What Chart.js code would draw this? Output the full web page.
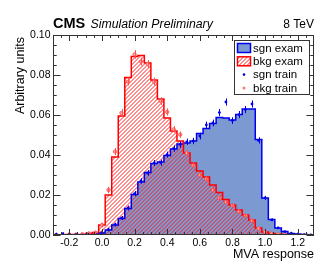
<!DOCTYPE html>
<html><head><meta charset="utf-8">
<script src="https://cdn.jsdelivr.net/npm/chart.js@4.4.1/dist/chart.umd.min.js"></script>
<style>html,body{margin:0;padding:0;background:#fff}canvas{display:block}</style>
</head><body>
<canvas id="c" width="332" height="270"></canvas>
<script>
// ---- data ----
const binCenters = [-0.28,-0.24,-0.20,-0.16,-0.12,-0.08,-0.04,0.00,0.04,0.08,0.12,0.16,0.20,0.24,0.28,0.32,0.36,0.40,0.44,0.48,
                    0.52,0.56,0.60,0.64,0.68,0.72,0.76,0.80,0.84,0.88,0.92,0.96,1.00,1.04,1.08,1.12,1.16,1.20,1.24,1.28];
const sgnExam = [0,0,0,0,0,0.0002,0.0005,0.001,0.0025,0.005,0.0083,0.0133,0.0203,0.0265,0.0312,0.0357,0.0365,0.0398,0.043,0.0455,
                 0.046,0.047,0.0508,0.0532,0.0558,0.0588,0.0585,0.0575,0.0603,0.063,0.063,0.0478,0.0185,0.0077,0.0035,0.0018,0.0008,0.0005,0.0002,0.0001];
const bkgExam = [0,0,0.0002,0.0002,0.0003,0.0008,0.0013,0.005,0.020,0.039,0.0595,0.0787,0.0893,0.0897,0.086,0.0775,0.068,0.0585,0.052,0.047,
                 0.041,0.036,0.032,0.029,0.025,0.0212,0.0178,0.015,0.0125,0.010,0.0075,0.0035,0.0015,0.0008,0.0004,0.0002,0.0001,0,0,0];
const sgnTrain = [0.0003,0.0005,0.0003,0.0002,0.0001,0.0004,0.0006,0.0012,0.0027,0.0052,0.0085,0.0135,0.0207,0.027,0.031,0.036,0.0362,0.0402,0.0432,0.0452,
                  0.0466,0.047,0.0495,0.055,0.056,0.0612,0.0665,0.0572,0.0602,0.0627,0.0655,0.0473,0.0186,0.0076,0.0036,0.0017,0.0009,0.0004,0.0002,0.0001];
const sgnTrainErr = [0.0008,0.0008,0.0006,0.0004,0.0004,0.0006,0.0007,0.0008,0.0009,0.001,0.001,0.0012,0.0013,0.0014,0.0014,0.0015,0.0015,0.0015,0.0016,0.0016,
                     0.0016,0.0016,0.0017,0.0017,0.0017,0.0018,0.0018,0.0017,0.0018,0.0018,0.0018,0.0016,0.001,0.0007,0.0005,0.0004,0.0003,0.0003,0.0002,0.0002];
const bkgTrain = [0.0001,0.0002,0.0003,0.0002,0.0004,0.0008,0.0012,0.005,0.0225,0.0417,0.061,0.0767,0.0903,0.0867,0.0855,0.0767,0.067,0.0615,0.0528,0.0502,
                  0.041,0.0348,0.030,0.028,0.0225,0.0185,0.0165,0.0148,0.0118,0.0098,0.0072,0.0033,0.0016,0.0007,0.0003,0.0002,0,0.0001,0,0];
const bkgTrainErr = [0.0003,0.0003,0.0004,0.0003,0.0004,0.0006,0.0007,0.0012,0.0016,0.0018,0.002,0.002,0.0022,0.002,0.002,0.002,0.0019,0.0018,0.0017,0.0016,
                     0.0015,0.0014,0.0013,0.0013,0.0012,0.0011,0.001,0.001,0.0009,0.0008,0.0007,0.0005,0.0004,0.0003,0.0002,0.0002,0.0001,0.0001,0.0001,0.0001];
const xTickVals = [-0.2,0.0,0.2,0.4,0.6,0.8,1.0,1.2];
const yTickVals = [0.00,0.02,0.04,0.06,0.08,0.10];
const legendLabels = ['sgn exam','bkg exam','sgn train','bkg train'];
const headerCMS = 'CMS', headerSub = 'Simulation Preliminary', headerEnergy = '8 TeV';
const xTitle = 'MVA response', yTitle = 'Arbitrary units';

// ---- style ----
const FONT = '"Liberation Sans", Arial, Helvetica, sans-serif';
const sgnLine = '#0000ee', sgnFill = '#7d99d1', bkgLine = '#ff0000', hatchColor = '#ff2020';
Chart.defaults.font.family = FONT;
const mainCtx = document.getElementById('c').getContext('2d');

const half = (binCenters[1]-binCenters[0])/2;
// points at bin left edges (+ closing right edge); stepped 'before' = horizontal then vertical
function stepData(vals){
  const n = vals.length;
  const pts = [{x: binCenters[0]-half, y: 0}];
  vals.forEach((v,i)=>pts.push({x: binCenters[i]-half, y: v}));
  pts.push({x: binCenters[n-1]+half, y: vals[n-1]});
  pts.push({x: binCenters[n-1]+half, y: 0});
  return pts;
}
function pointData(vals, errs){
  const pts = [], e = [];
  vals.forEach((v,i)=>{ if (v > 0) { pts.push({x: binCenters[i], y: v}); e.push(errs[i]); } });
  return {pts, e};
}
const sT = pointData(sgnTrain, sgnTrainErr), bT = pointData(bkgTrain, bkgTrainErr);

function drawHatch(ctx){
  const W = ctx.canvas.width, H = ctx.canvas.height;
  for (let c = -H; c <= W; c += 4) {
    ctx.beginPath();
    ctx.moveTo(c + 0.5, H); ctx.lineTo(c + 0.5 + H, 0);
    ctx.stroke();
  }
}

const hatchFill = {
  id: 'hatchFill',
  beforeDatasetsDraw(chart){
    const {ctx, scales:{x, y}} = chart;
    chart.data.datasets.forEach(ds=>{
      if (!ds.hatchValues) return;
      const v = ds.hatchValues, n = v.length;
      const base = y.getPixelForValue(0);
      ctx.save();
      ctx.beginPath();
      ctx.moveTo(x.getPixelForValue(binCenters[0]-half), base);
      for (let k = 0; k < n; k++) {
        const py = y.getPixelForValue(v[k]);
        ctx.lineTo(x.getPixelForValue(binCenters[k]-half), py);
        ctx.lineTo(x.getPixelForValue(binCenters[k]+half), py);
      }
      ctx.lineTo(x.getPixelForValue(binCenters[n-1]+half), base);
      ctx.closePath();
      ctx.clip();
      ctx.strokeStyle = hatchColor; ctx.lineWidth = 1;
      drawHatch(ctx);
      ctx.restore();
    });
  }
};

const errorBars = {
  id: 'errorBars',
  afterDatasetsDraw(chart){
    const {ctx, scales:{x, y}, chartArea:a} = chart;
    ctx.save();
    ctx.beginPath(); ctx.rect(a.left, a.top, a.right-a.left, a.bottom-a.top); ctx.clip();
    chart.data.datasets.forEach(ds=>{
      if (!ds.errors) return;
      ctx.strokeStyle = ds.errColor; ctx.lineWidth = 1;
      ds.data.forEach((p,j)=>{
        const px = Math.round(x.getPixelForValue(p.x)) + 0.5;
        ctx.beginPath();
        ctx.moveTo(px, y.getPixelForValue(p.y - ds.errors[j]));
        ctx.lineTo(px, y.getPixelForValue(p.y + ds.errors[j]));
        ctx.stroke();
      });
    });
    ctx.restore();
  }
};

const frameTicks = {
  id: 'frameTicks',
  afterDraw(chart){
    const {ctx, chartArea:a, scales:{x, y}} = chart;
    ctx.save();
    ctx.strokeStyle = '#333'; ctx.lineWidth = 1;
    ctx.strokeRect(a.left+0.5, a.top+0.5, a.right-a.left-1, a.bottom-a.top-1);
    ctx.beginPath();
    for (let i = -6; i <= 26; i++) {
      const v = i*0.05, px = Math.round(x.getPixelForValue(v)) + 0.5;
      if (px < a.left+1 || px > a.right-1) continue;
      const L = (i % 4 === 0) ? 6 : 3;
      ctx.moveTo(px, a.bottom); ctx.lineTo(px, a.bottom - L);
      ctx.moveTo(px, a.top); ctx.lineTo(px, a.top + L);
    }
    for (let i = 0; i <= 20; i++) {
      const v = i*0.005, py = Math.round(y.getPixelForValue(v)) + 0.5;
      const L = (i % 4 === 0) ? 7.5 : 3.75;
      ctx.moveTo(a.left, py); ctx.lineTo(a.left + L, py);
      ctx.moveTo(a.right, py); ctx.lineTo(a.right - L, py);
    }
    ctx.stroke();

    // header
    ctx.fillStyle = '#000'; ctx.textBaseline = 'alphabetic';
    ctx.textAlign = 'left';
    ctx.font = 'bold 14.5px ' + FONT; ctx.fillText(headerCMS, 53, 28);
    ctx.font = 'italic 12.3px ' + FONT; ctx.fillText(headerSub, 90.5, 28);
    ctx.textAlign = 'right';
    ctx.font = '12px ' + FONT; ctx.fillText(headerEnergy, 314, 28);
    // axis titles
    ctx.font = '12.5px ' + FONT;
    ctx.textAlign = 'right';
    ctx.fillText(xTitle, 314, 258);
    ctx.save();
    ctx.translate(24, 37); ctx.rotate(-Math.PI/2);
    ctx.textAlign = 'right'; ctx.fillText(yTitle, 0, 0);
    ctx.restore();

    // legend
    const L = {x: 234.5, y: 40.5, w: 75, h: 54};
    ctx.fillStyle = '#fff'; ctx.fillRect(L.x, L.y, L.w, L.h);
    ctx.strokeStyle = '#333'; ctx.lineWidth = 1; ctx.strokeRect(L.x, L.y, L.w, L.h);
    const rowY = [48, 61.3, 74.6, 87.9];
    ctx.fillStyle = sgnFill; ctx.fillRect(237.5, rowY[0]-4.5, 13, 9);
    ctx.strokeStyle = sgnLine; ctx.lineWidth = 1.5; ctx.strokeRect(237.5, rowY[0]-4.5, 13, 9);
    ctx.save();
    ctx.beginPath(); ctx.rect(237.5, rowY[1]-4.5, 13, 9); ctx.clip();
    ctx.strokeStyle = hatchColor; ctx.lineWidth = 1;
    drawHatch(ctx);
    ctx.restore();
    ctx.strokeStyle = bkgLine; ctx.lineWidth = 1.5; ctx.strokeRect(237.5, rowY[1]-4.5, 13, 9);
    ctx.fillStyle = sgnLine; ctx.beginPath(); ctx.arc(244, rowY[2], 1.3, 0, 2*Math.PI); ctx.fill();
    ctx.fillStyle = '#ff7777'; ctx.beginPath(); ctx.arc(244, rowY[3], 1.5, 0, 2*Math.PI); ctx.fill();
    ctx.fillStyle = '#000';
    ctx.font = '11.5px ' + FONT; ctx.textAlign = 'left'; ctx.textBaseline = 'middle';
    legendLabels.forEach((t,i)=>ctx.fillText(t, 253, rowY[i]+0.5));
    ctx.restore();
  }
};

new Chart(mainCtx, {
  type: 'line',
  data: {
    datasets: [
      { label: 'sgn train', data: sT.pts, errors: sT.e, errColor: sgnLine, showLine: false,
        pointRadius: 1.4, pointBackgroundColor: sgnLine, pointBorderWidth: 0, order: 0 },
      { label: 'bkg train', data: bT.pts, errors: bT.e, errColor: '#ff5555', showLine: false,
        pointRadius: 1.7, pointBackgroundColor: '#ffaaaa', pointBorderColor: '#ff4444', pointBorderWidth: 0.8, order: 0 },
      { label: 'bkg exam', data: stepData(bkgExam), hatchValues: bkgExam, stepped: 'before', borderColor: bkgLine, borderWidth: 1.5,
        fill: false, pointRadius: 0, order: 1 },
      { label: 'sgn exam', data: stepData(sgnExam), stepped: 'before', borderColor: sgnLine, borderWidth: 1.5,
        backgroundColor: sgnFill, fill: 'origin', pointRadius: 0, order: 2 }
    ]
  },
  options: {
    responsive: false, animation: false,
    layout: { padding: { top: 35, right: 18, left: 0, bottom: 0 } },
    plugins: { legend: { display: false }, tooltip: { enabled: false }, filler: { drawTime: 'beforeDatasetsDraw' } },
    scales: {
      x: {
        type: 'linear', min: -0.3, max: 1.3,
        grid: { display: false, drawTicks: false }, border: { display: false },
        afterBuildTicks: s => { s.ticks = xTickVals.map(v => ({value: v})); },
        afterFit: s => { s.height = 35; },
        ticks: { padding: 2, color: '#000', font: { size: 10.5 }, maxRotation: 0, autoSkip: false,
                 callback: v => Number(v).toFixed(1) }
      },
      y: {
        type: 'linear', min: 0, max: 0.1,
        grid: { display: false, drawTicks: false }, border: { display: false },
        afterBuildTicks: s => { s.ticks = yTickVals.map(v => ({value: v})); },
        afterFit: s => { s.width = 53; },
        ticks: { padding: 2.5, color: '#000', font: { size: 10.5 },
                 callback: v => Number(v).toFixed(2) }
      }
    }
  },
  plugins: [hatchFill, errorBars, frameTicks]
});
</script>
</body></html>
